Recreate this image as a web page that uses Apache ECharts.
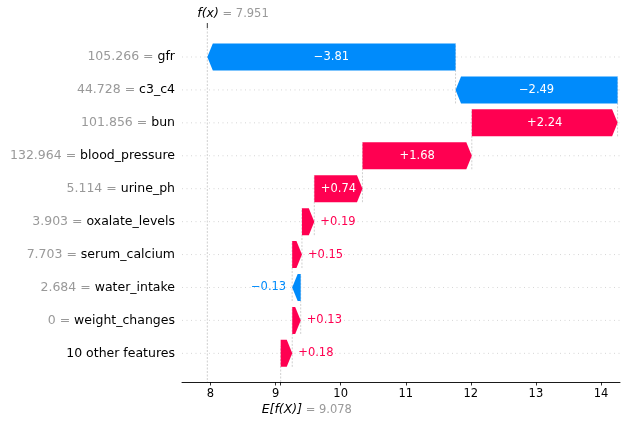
<!DOCTYPE html>
<html><head><meta charset="utf-8">
<script src="https://cdn.jsdelivr.net/npm/echarts@6/dist/echarts.min.js"></script>
<style>html,body{margin:0;padding:0;background:#fff}#c{width:627px;height:424px}</style>
</head><body><div id="c"></div>
<script>
// rows listed bottom -> top
const featureNames = ['10 other features','weight_changes','water_intake','serum_calcium','oxalate_levels','urine_ph','blood_pressure','bun','c3_c4','gfr'];
const featureValues = ['', '0', '2.684', '7.703', '3.903', '5.114', '132.964', '101.856', '44.728', '105.266'];
const shapValues = [0.178, 0.13, -0.131, 0.15, 0.19, 0.74, 1.68, 2.24, -2.49, -3.814];
const baseValue = 9.078;
const fxValue = 7.951;
const xTicks = [8, 9, 10, 11, 12, 13, 14];
const rowIdx = featureNames.map((_, i) => i);

const BLUE = '#008bfb', RED = '#ff0051';
const FONT = 'DejaVu Sans';

const starts = [], ends = [];
let acc = baseValue;
shapValues.forEach(v => { starts.push(acc); acc += v; ends.push(acc); });

function fmt(v) { return (v >= 0 ? '+' : '\u2212') + Math.abs(v).toFixed(2); }

const barData = shapValues.map((v, i) => [starts[i], ends[i], i, v]);
const gridData = rowIdx.map(i => [ends[i], i]);
const annoData = [[fxValue, 1], [baseValue, 0]];

function renderGrid(params, api) {
  const cs = params.coordSys;
  const x = api.value(0), r = api.value(1);
  const y = api.coord([x, r])[1];
  const children = [{
    type: 'line', shape: { x1: cs.x, y1: y, x2: cs.x + cs.width, y2: y },
    style: { stroke: '#cccccc', lineWidth: 0.8, lineDash: [1, 3.5] }
  }];
  if (r < featureNames.length - 1) {
    const px = api.coord([x, r])[0];
    const y1 = api.coord([x, r - 0.41])[1];
    const y2 = api.coord([x, r + 1.41])[1];
    children.push({
      type: 'line', shape: { x1: px, y1: y1, x2: px, y2: y2 },
      style: { stroke: '#bbbbbb', lineWidth: 0.7, lineDash: [2, 1.5] }
    });
  }
  return { type: 'group', children };
}

function renderBar(params, api) {
  const s = api.value(0), e = api.value(1), r = api.value(2), v = api.value(3);
  const ps = api.coord([s, r]), pe = api.coord([e, r]);
  const top = api.coord([s, r + 0.41])[1], bot = api.coord([s, r - 0.41])[1];
  const mid = ps[1];
  const dir = e >= s ? 1 : -1;
  const w = Math.abs(pe[0] - ps[0]);
  const head = Math.min(5.5, w);
  const xb = pe[0] - dir * head;
  const color = v >= 0 ? RED : BLUE;
  const inside = w > 40;
  return {
    type: 'group', children: [
      { type: 'polygon', shape: { points: [[ps[0], top], [xb, top], [pe[0], mid], [xb, bot], [ps[0], bot]] },
        style: { fill: color } },
      { type: 'text', style: {
          text: fmt(v),
          x: inside ? (ps[0] + pe[0]) / 2 : pe[0] + dir * 6,
          y: mid,
          align: inside ? 'center' : (dir > 0 ? 'left' : 'right'),
          verticalAlign: 'middle',
          fill: inside ? '#ffffff' : color,
          fontSize: 11.5, fontFamily: FONT
        } }
    ]
  };
}

function renderAnno(params, api) {
  const cs = params.coordSys;
  const val = api.value(0);
  const x = api.coord([val, 0])[0];
  const isTop = api.value(1) === 1;
  const rich = {
    i: { fontStyle: 'italic', fontSize: 12.5, fontFamily: FONT, fill: '#000' },
    g: { fontSize: 11.5, fontFamily: FONT, fill: '#999999' }
  };
  if (isTop) {
    return { type: 'group', children: [
      { type: 'line', shape: { x1: x, y1: cs.y, x2: x, y2: cs.y + cs.height },
        style: { stroke: '#bbbbbb', lineWidth: 0.7, lineDash: [2, 1.5] } },
      { type: 'line', shape: { x1: x, y1: cs.y - 5, x2: x, y2: cs.y },
        style: { stroke: '#000', lineWidth: 0.8 } },
      { type: 'text', style: { text: '{i|f(x)}{g| = ' + val.toFixed(3) + '}', rich,
          x: x - 10, y: cs.y - 14, align: 'left', verticalAlign: 'middle' } }
    ] };
  }
  const yb = cs.y + cs.height;
  return { type: 'group', children: [
    { type: 'line', shape: { x1: x, y1: yb, x2: x, y2: yb - cs.height / featureNames.length },
      style: { stroke: '#bbbbbb', lineWidth: 0.7, lineDash: [2, 1.5] } },
    { type: 'text', style: { text: '{i|E[f(X)]}{g| = ' + val.toFixed(3) + '}', rich,
        x: x - 19, y: yb + 28, align: 'left', verticalAlign: 'middle' } }
  ] };
}

const chart = echarts.init(document.getElementById('c'), null, { renderer: 'canvas' });
chart.setOption({
  animation: false,
  backgroundColor: '#ffffff',
  grid: { left: 182, right: 7, top: 28, bottom: 42, containLabel: false },
  xAxis: {
    type: 'value', min: 7.562, max: 14.292,
    axisLine: { show: true, onZero: false, lineStyle: { color: '#000', width: 0.9 } },
    axisTick: { show: true, length: 3.5, lineStyle: { color: '#000', width: 0.8 }, customValues: xTicks.concat([baseValue]) },
    axisLabel: { customValues: xTicks, color: '#000', fontSize: 11.5, fontFamily: FONT, margin: 6 },
    splitLine: { show: false }
  },
  yAxis: {
    type: 'value', min: -0.87, max: 9.88,
    axisLine: { show: false }, axisTick: { show: false }, splitLine: { show: false },
    axisLabel: {
      customValues: rowIdx, margin: 7, fontSize: 12.5, fontFamily: FONT,
      overflow: 'none', width: 200,
      formatter: v => {
        const i = Math.round(v);
        const val = featureValues[i];
        return (val !== '' ? '{v|' + val + ' = }' : '') + '{n|' + featureNames[i] + '}';
      },
      rich: {
        v: { color: '#999999', fontSize: 12.5, fontFamily: FONT },
        n: { color: '#000000', fontSize: 12.5, fontFamily: FONT }
      }
    }
  },
  series: [
    { type: 'custom', z: 1, clip: false, renderItem: renderGrid, data: gridData, silent: true },
    { type: 'custom', z: 1, clip: false, renderItem: renderAnno, data: annoData, silent: true },
    { type: 'custom', z: 3, clip: false, renderItem: renderBar, data: barData }
  ]
});
</script>
</body></html>
